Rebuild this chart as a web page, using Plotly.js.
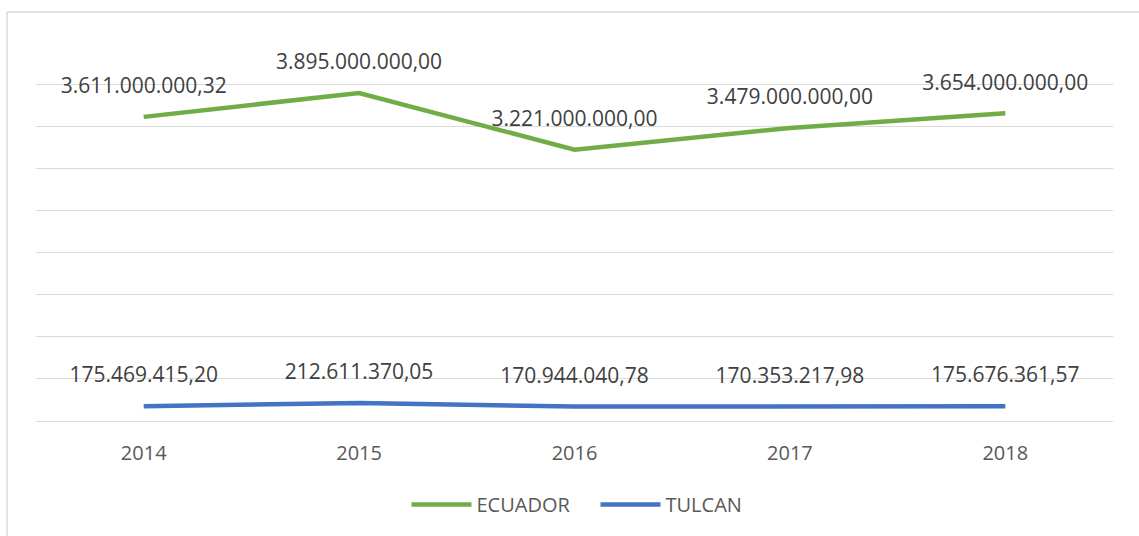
<!DOCTYPE html>
<html>
<head>
<meta charset="utf-8">
<script src="https://cdn.plot.ly/plotly-3.0.1.min.js"></script>
<style>
html,body{margin:0;padding:0;background:#fff;}
#chart{width:1139px;height:536px;}
</style>
</head>
<body>
<div id="chart"></div>
<script>
const years = ['2014', '2015', '2016', '2017', '2018'];
const ecuador = [3611000000.32, 3895000000.00, 3221000000.00, 3479000000.00, 3654000000.00];
const tulcan = [175469415.20, 212611370.05, 170944040.78, 170353217.98, 175676361.57];
const seriesNames = ['ECUADOR', 'TULCAN'];
const seriesColors = ['#70AD47', '#4472C4'];

const FONT = '"Open Sans", "Liberation Sans", sans-serif';

function mkTrace(name, ys, color) {
  return {
    type: 'scatter',
    mode: 'lines+markers+text',
    name: name,
    x: years,
    y: ys,
    line: {color: color, width: 4.5},
    marker: {size: 28, color: 'rgba(0,0,0,0)', line: {width: 0, color: 'rgba(0,0,0,0)'}},
    texttemplate: '%{y:,.2f}',
    textposition: 'top center',
    textfont: {family: FONT, size: 21, color: '#404040'},
    cliponaxis: false,
    hoverinfo: 'skip'
  };
}

const data = [
  mkTrace(seriesNames[0], ecuador, seriesColors[0]),
  mkTrace(seriesNames[1], tulcan, seriesColors[1])
];

const layout = {
  width: 1139,
  height: 536,
  separators: ',.',
  paper_bgcolor: '#ffffff',
  plot_bgcolor: '#ffffff',
  font: {family: FONT, color: '#595959', size: 20},
  margin: {l: 36, r: 26, t: 42, b: 115, pad: 0},
  showlegend: true,
  legend: {
    orientation: 'h',
    x: 0.5195, xanchor: 'center',
    y: -0.22, yanchor: 'middle',
    font: {family: FONT, size: 20, color: '#595959'},
    itemwidth: 60,
    entrywidth: 114,
    entrywidthmode: 'pixels',
    bgcolor: 'rgba(0,0,0,0)'
  },
  xaxis: {
    type: 'category',
    range: [-0.5, 4.5],
    showgrid: false,
    zeroline: false,
    showline: false,
    ticks: '',
    ticklabelstandoff: 18,
    tickfont: {family: FONT, size: 20, color: '#595959'},
    fixedrange: true
  },
  yaxis: {
    range: [0, 4.5e9],
    dtick: 0.5e9,
    tick0: 0,
    showticklabels: false,
    showgrid: true,
    gridcolor: '#D9D9D9',
    gridwidth: 1,
    zeroline: true,
    zerolinecolor: '#D9D9D9',
    zerolinewidth: 1,
    showline: false,
    ticks: '',
    fixedrange: true
  },
  shapes: [
    {type: 'line', xref: 'paper', yref: 'paper', x0: -0.0269, x1: -0.0269, y0: 1.0792, y1: -0.4, line: {color: '#D9D9D9', width: 1.5}},
    {type: 'line', xref: 'paper', yref: 'paper', x0: -0.0269, x1: 1.03, y0: 1.0792, y1: 1.0792, line: {color: '#D9D9D9', width: 1.5}}
  ]
};

Plotly.newPlot('chart', data, layout, {staticPlot: true, displayModeBar: false});
</script>
</body>
</html>
